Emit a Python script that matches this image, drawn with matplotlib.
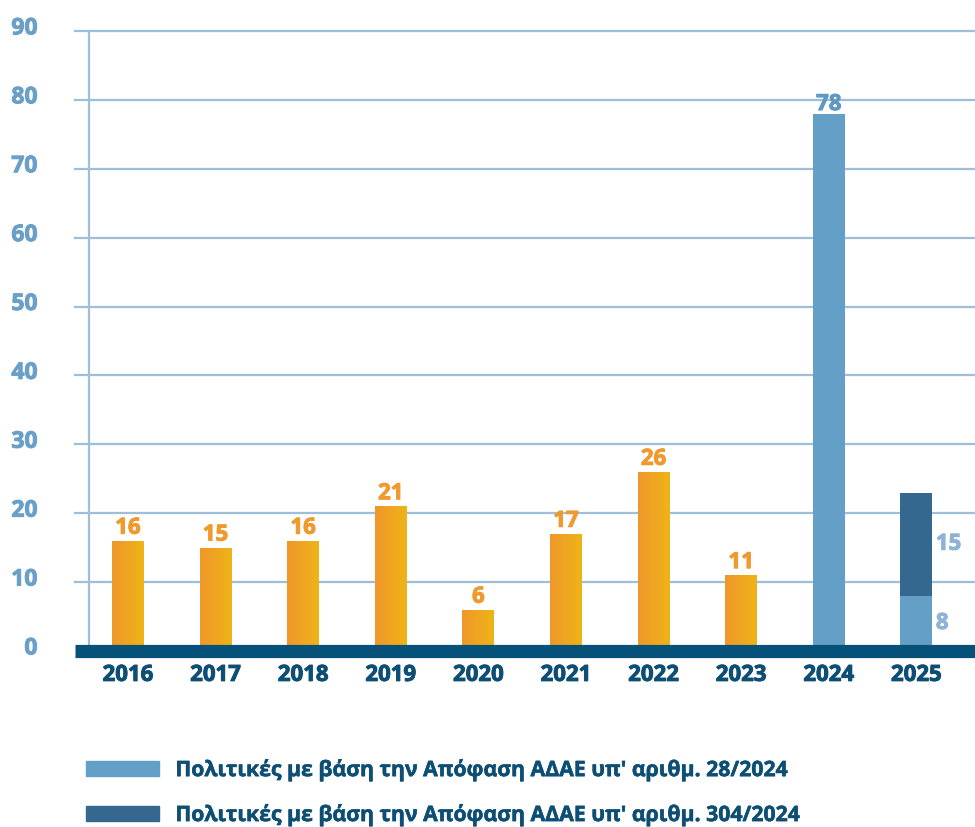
import numpy as np
import matplotlib
matplotlib.use("Agg")
import matplotlib.pyplot as plt
import matplotlib.patheffects as pe
from matplotlib.colors import LinearSegmentedColormap
from matplotlib.patches import Patch
from matplotlib.transforms import ScaledTranslation

plt.rcParams['font.family'] = ['Open Sans', 'DejaVu Sans']
plt.rcParams['font.weight'] = 'bold'

years = ['2016', '2017', '2018', '2019', '2020', '2021', '2022', '2023', '2024', '2025']
old_policies = [16, 15, 16, 21, 6, 17, 26, 11, 0, 0]
policies_28 = [0, 0, 0, 0, 0, 0, 0, 0, 78, 8]
policies_304 = [0, 0, 0, 0, 0, 0, 0, 0, 0, 15]
legend_labels = ["Πολιτικές με βάση την Απόφαση ΑΔΑΕ υπ' αριθμ. 28/2024",
                 "Πολιτικές με βάση την Απόφαση ΑΔΑΕ υπ' αριθμ. 304/2024"]

ORANGE_TXT = '#f0992c'
LIGHT = '#639fc6'
DARK = '#35688f'
GRID = '#9dbfd9'
BASE = '#05517a'
TICK_Y = '#6aa0c8'
LABEL_BLUE = '#8db4d4'
NAVY = '#0d4e74'


def thick(color, lw=0.7):
    # make text a bit heavier than the font's bold
    return [pe.withStroke(linewidth=lw, foreground=color)]


fig = plt.figure(figsize=(9.75, 8.28), dpi=100)
ax = fig.add_axes([75 / 975, 1 - 652 / 828, 900 / 975, 620 / 828])

x = np.arange(len(years))
w = 0.365

# orange bars with left-to-right gradient
orange_cmap = LinearSegmentedColormap.from_list('og', ['#f0972b', '#eeb417'])
grad = np.linspace(0, 1, 64).reshape(1, -1)
bars = ax.bar(x, old_policies, w, color='none', edgecolor='none', zorder=3)
for b, v in zip(bars, old_policies):
    if v == 0:
        continue
    im = ax.imshow(grad, cmap=orange_cmap, aspect='auto', zorder=3,
                   extent=[b.get_x(), b.get_x() + b.get_width(), 0, v])
    im.set_clip_path(b)
    ax.annotate(str(v), (b.get_x() + b.get_width() / 2, v), xytext=(0, 1.5),
                textcoords='offset points', ha='center', va='bottom',
                color=ORANGE_TXT, fontsize=16, zorder=5,
                path_effects=thick(ORANGE_TXT))

ax.bar(x, policies_28, w, color=LIGHT, zorder=3)
ax.bar(x, policies_304, w, bottom=policies_28, color=DARK, zorder=3)

# labels for the blue bars
ax.annotate(str(policies_28[8]), (x[8], policies_28[8]), xytext=(0, -1),
            textcoords='offset points', ha='center', va='bottom',
            color='#5f98c2', fontsize=16, path_effects=thick('#5f98c2'))
ax.text(x[9] + w / 2 + 0.04, policies_28[9] / 2, str(policies_28[9]),
        ha='left', va='center', color=LABEL_BLUE, fontsize=16,
        path_effects=thick(LABEL_BLUE))
ax.text(x[9] + w / 2 + 0.04, policies_28[9] + policies_304[9] / 2, str(policies_304[9]),
        ha='left', va='center', color=LABEL_BLUE, fontsize=16,
        path_effects=thick(LABEL_BLUE))

ax.set_xlim(-0.605, 9.669)
ax.set_ylim(0, 90)

# grid and axis lines
for yv in range(10, 100, 10):
    ax.axhline(yv, color=GRID, lw=1.6, zorder=1, clip_on=False)
ax.plot([-0.445, -0.445], [0, 90], color=GRID, lw=1.6, zorder=1, clip_on=False)
ax.axhline(0, color=BASE, lw=9.5, zorder=4, clip_on=False, solid_capstyle='butt')

for s in ax.spines.values():
    s.set_visible(False)
ax.set_facecolor('none')

ax.set_yticks(range(0, 100, 10))
ax.tick_params(axis='y', length=0, pad=27, labelcolor=TICK_Y, labelsize=16.5)
for lbl in ax.get_yticklabels():
    lbl.set_path_effects(thick(TICK_Y))
    lbl.set_transform(lbl.get_transform() + ScaledTranslation(0, 4 / 72, fig.dpi_scale_trans))

ax.set_xticks(x)
ax.set_xticklabels(years)
ax.tick_params(axis='x', length=0, pad=10, labelcolor=NAVY, labelsize=16)
for lbl in ax.get_xticklabels():
    lbl.set_path_effects(thick(NAVY))

handles = [Patch(color=LIGHT), Patch(color=DARK)]
leg = fig.legend(handles, legend_labels, loc='upper left',
                 bbox_to_anchor=(67 / 975, 1 - 741 / 828),
                 frameon=False, handlelength=3.45, handleheight=0.7,
                 handletextpad=0.75, labelspacing=1.08, labelcolor=NAVY,
                 prop={'weight': 'bold', 'size': 15.3})
for t in leg.get_texts():
    t.set_path_effects(thick(NAVY, 0.4))

fig.savefig('out.png', dpi=100)
